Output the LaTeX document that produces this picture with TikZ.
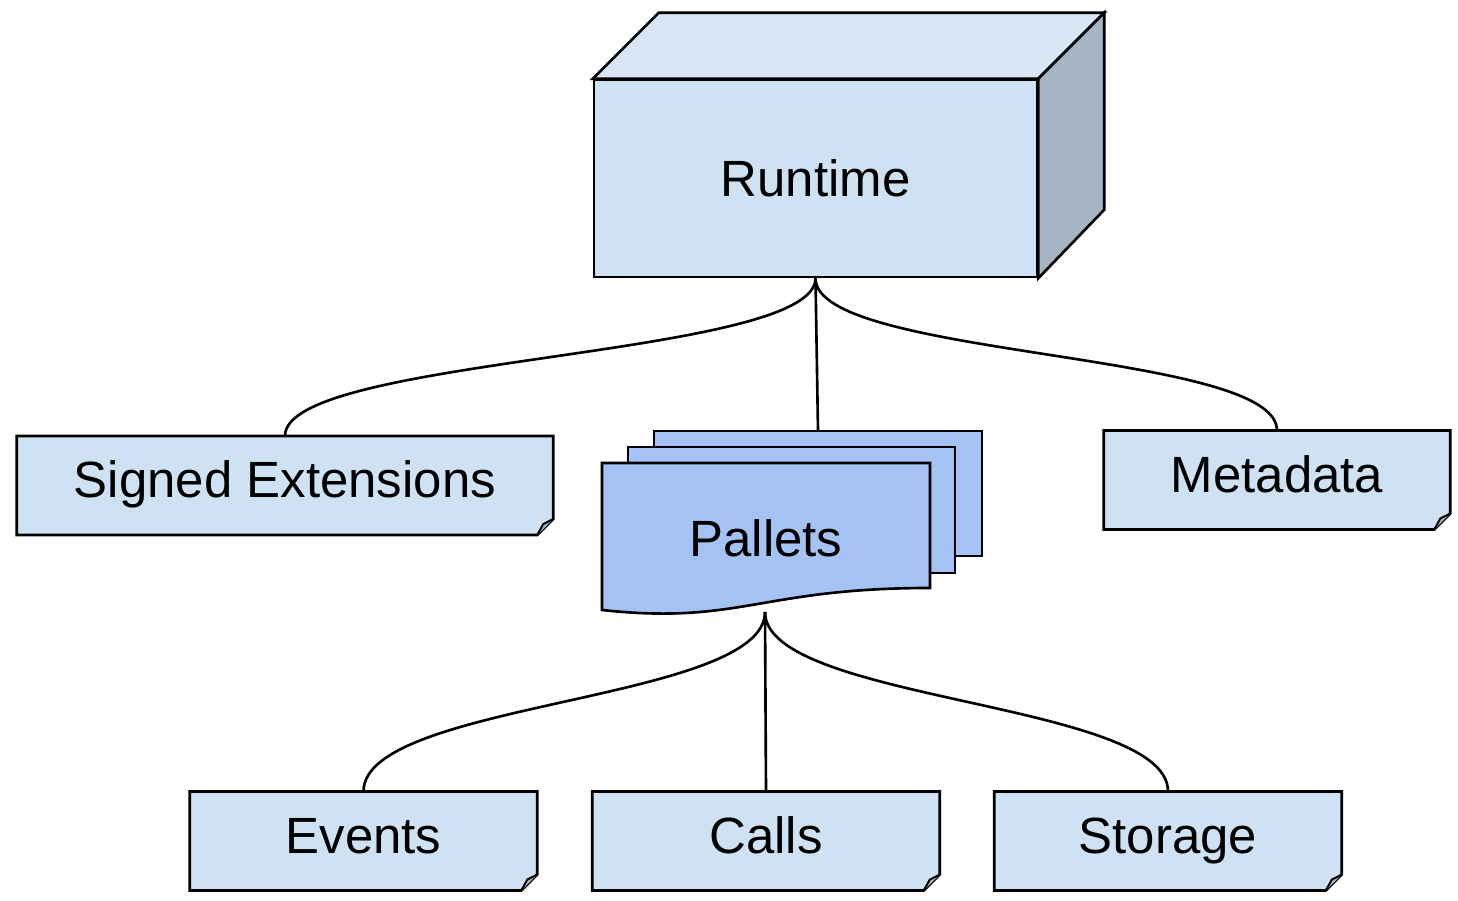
\documentclass[tikz,border=0pt]{standalone}
\usepackage{fontspec}
\setmainfont{Liberation Sans}
\usetikzlibrary{backgrounds}
\definecolor{notefill}{HTML}{CFE2F3}
\definecolor{topfill}{HTML}{D7E6F4}
\definecolor{sidefill}{HTML}{A5B5C3}
\definecolor{palletfill}{HTML}{A4C2F4}
\tikzset{
  notebox/.style={draw, fill=notefill, line width=1.5pt, line join=miter},
  fold/.style={draw, fill=sidefill, line width=1.1pt},
  link/.style={draw, line width=1.5pt}
}
\begin{document}
\begin{tikzpicture}[x=0.02cm,y=-0.02cm,line width=1.5pt,line join=miter,
    every node/.style={font=\fontsize{29}{35}\selectfont, text height=21pt, text depth=7pt}]

        \useasboundingbox (0,0) rectangle (1458,901);

        % runtime box
        \node[draw, fill=notefill, text depth=0pt, minimum width=8.86cm, minimum height=3.94cm] (runtime) at (815.5,178.5) {Runtime};
        \draw[fill=topfill] (runtime.north west) -- ++(66,-66) -- ++(442,0) -- ([xshift=1.32cm,yshift=1.32cm]runtime.north east) -- (runtime.north east) -- cycle;
        \draw[fill=sidefill] (runtime.north east) -- ++(66,-66) -- ++(0,197) -- (runtime.south east) -- cycle;

        % pallets stack
        \draw[fill=palletfill] (654,431) rectangle (982,556);
        \draw[fill=palletfill] (628,447) rectangle (955,573);
        \draw[fill=palletfill] (602,463) -- (930,463) -- (930,588) .. controls (760,588) and (740,625) .. (602,610) -- cycle;
        \node (pallets) at (766,544) {Pallets};
        \coordinate (pallets top) at (818,431);
        \coordinate (pallets bottom) at (765,612);

        % notes
        \begin{scope}[every node/.append style={minimum height=1.93cm}]
          \node[minimum width=10.68cm] (sext)    at (285,485.5) {Signed Extensions};
          \node[minimum width=6.88cm]  (meta)    at (1277,480)  {Metadata};
          \node[minimum width=6.9cm]   (events)  at (363.5,841) {Events};
          \node[minimum width=6.9cm]   (calls)   at (766,841)   {Calls};
          \node[minimum width=6.9cm]   (storage) at (1168,841)  {Storage};
        \end{scope}

        \begin{pgfonlayer}{background}
          \foreach \n in {sext,meta,events,calls,storage} {
            \path[notebox] (\n.north west) -- (\n.north east) -- ([yshift=0.32cm]\n.south east) -- ([xshift=-0.32cm]\n.south east) -- (\n.south west) -- cycle;
          }
        \end{pgfonlayer}
        \foreach \n in {sext,meta,events,calls,storage} {
          \path[fold] ([yshift=0.32cm]\n.south east) -- ([xshift=-0.2cm,yshift=0.22cm]\n.south east) -- ([xshift=-0.32cm]\n.south east);
        }

        % connectors
        \foreach \t in {sext,meta} {
          \path[link] (runtime.south) .. controls +(0,80) and +(0,-80) .. (\t.north);
        }
        \path[link] (runtime.south) -- (pallets top);
        \foreach \t in {events,storage} {
          \path[link] (pallets bottom) .. controls +(0,90) and +(0,-90) .. (\t.north);
        }
        \path[link] (pallets bottom) -- (calls.north);

\end{tikzpicture}
\end{document}
